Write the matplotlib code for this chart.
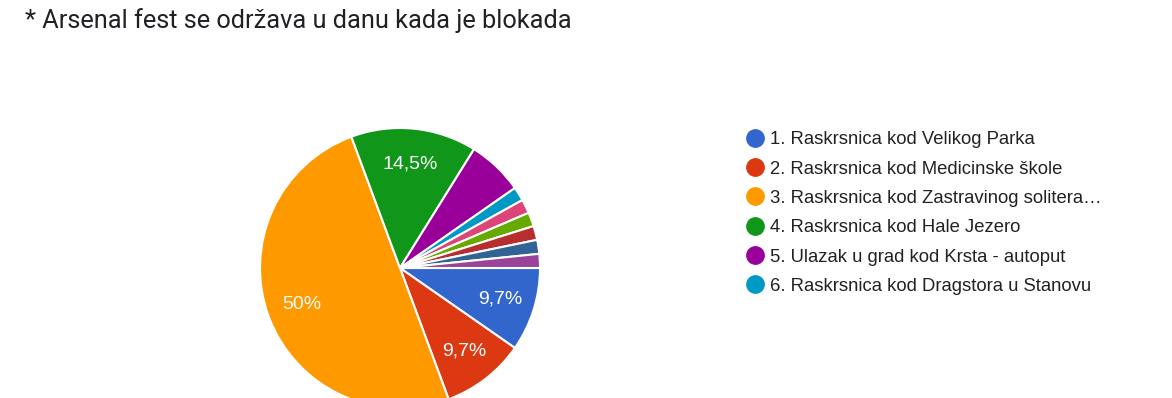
"""Google Forms style pie chart: Arsenal fest blockade question."""

import matplotlib
matplotlib.use("Agg")
import matplotlib.pyplot as plt
from matplotlib.lines import Line2D

TITLE = "* Arsenal fest se održava u danu kada je blokada"

# response counts per option (clockwise from 3 o'clock)
counts = [6, 6, 31, 9, 4, 1, 1, 1, 1, 1, 1]
colors = ["#3366cc", "#dc3912", "#ff9900", "#109618", "#990099",
          "#0099c6", "#dd4477", "#66aa00", "#b82e2e", "#316395", "#994499"]
legend_labels = [
    "1. Raskrsnica kod Velikog Parka",
    "2. Raskrsnica kod Medicinske škole",
    "3. Raskrsnica kod Zastravinog solitera…",
    "4. Raskrsnica kod Hale Jezero",
    "5. Ulazak u grad kod Krsta - autoput",
    "6. Raskrsnica kod Dragstora u Stanovu",
]

W, H = 1172, 398
plt.rcParams["font.family"] = ["Roboto", "DejaVu Sans"]
ARIAL = ["Liberation Sans", "DejaVu Sans"]

fig = plt.figure(figsize=(W / 100, H / 100), dpi=100)
ax = fig.add_axes([0, 0, 1, 1])


def fmt_pct(p):
    if p < 9:
        return ""
    s = f"{p:.1f}".rstrip("0").rstrip(".")
    return s.replace(".", ",") + "%"


wedges, texts, autotexts = ax.pie(
    counts, colors=colors, startangle=0, counterclock=False,
    center=(400, H - 268), radius=140, autopct=fmt_pct, pctdistance=0.75,
    wedgeprops=dict(edgecolor="white", linewidth=1.5),
    textprops=dict(color="white", fontsize=14, family=ARIAL), frame=True)
ax.set_xlim(0, W)
ax.set_ylim(0, H)
ax.set_aspect("equal")
ax.axis("off")

fig.text(25 / W, 1 - 21 / H, TITLE, fontsize=18.3, color="#202124",
         ha="left", va="center")

handles = [Line2D([], [], marker="o", linestyle="none", markersize=12.5,
                  markerfacecolor=c, markeredgecolor=c) for c in colors[:6]]
fig.legend(handles, legend_labels, loc="upper left",
           bbox_to_anchor=(737 / W, 1 - 124 / H), frameon=False,
           prop=dict(family=ARIAL, size=13.3), labelcolor="#222222",
           handletextpad=0.25, labelspacing=0.665, borderaxespad=0,
           handlelength=1.15)

fig.savefig("out.png", dpi=100)
